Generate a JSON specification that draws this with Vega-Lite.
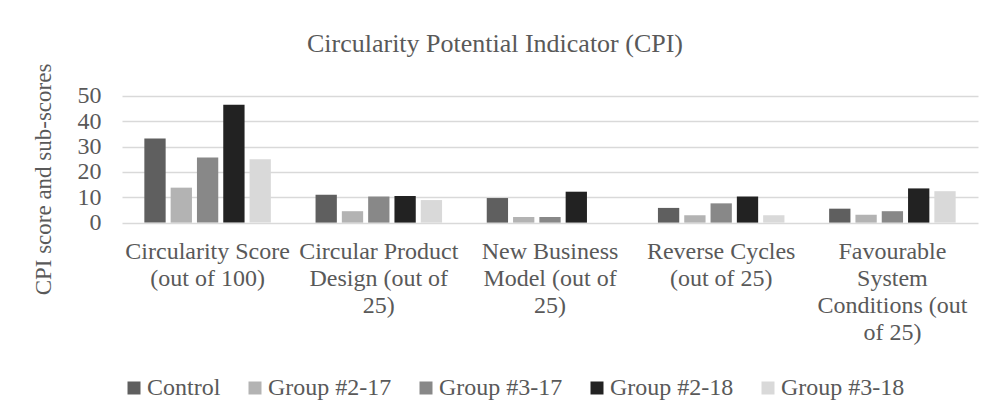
{
  "$schema": "https://vega.github.io/schema/vega-lite/v6.json",
  "width": 856,
  "height": 126.6,
  "padding": {"left": 32, "top": 31, "right": 20, "bottom": 5},
  "background": "white",
  "title": {
    "text": "Circularity Potential Indicator (CPI)",
    "font": "Liberation Serif",
    "fontSize": 26,
    "fontWeight": "normal",
    "color": "#595959",
    "anchor": "middle",
    "frame": "bounds",
    "dx": -10,
    "offset": 6
  },
  "data": {
    "values": [
      {"category": "Circularity Score (out of 100)", "series": "Control", "score": 33.2},
      {"category": "Circularity Score (out of 100)", "series": "Group #2-17", "score": 13.8},
      {"category": "Circularity Score (out of 100)", "series": "Group #3-17", "score": 25.7},
      {"category": "Circularity Score (out of 100)", "series": "Group #2-18", "score": 46.5},
      {"category": "Circularity Score (out of 100)", "series": "Group #3-18", "score": 25.0},
      {"category": "Circular Product Design (out of 25)", "series": "Control", "score": 11.0},
      {"category": "Circular Product Design (out of 25)", "series": "Group #2-17", "score": 4.5},
      {"category": "Circular Product Design (out of 25)", "series": "Group #3-17", "score": 10.3},
      {"category": "Circular Product Design (out of 25)", "series": "Group #2-18", "score": 10.5},
      {"category": "Circular Product Design (out of 25)", "series": "Group #3-18", "score": 8.9},
      {"category": "New Business Model (out of 25)", "series": "Control", "score": 9.7},
      {"category": "New Business Model (out of 25)", "series": "Group #2-17", "score": 2.2},
      {"category": "New Business Model (out of 25)", "series": "Group #3-17", "score": 2.2},
      {"category": "New Business Model (out of 25)", "series": "Group #2-18", "score": 12.2},
      {"category": "New Business Model (out of 25)", "series": "Group #3-18", "score": 0},
      {"category": "Reverse Cycles (out of 25)", "series": "Control", "score": 5.8},
      {"category": "Reverse Cycles (out of 25)", "series": "Group #2-17", "score": 2.9},
      {"category": "Reverse Cycles (out of 25)", "series": "Group #3-17", "score": 7.6},
      {"category": "Reverse Cycles (out of 25)", "series": "Group #2-18", "score": 10.3},
      {"category": "Reverse Cycles (out of 25)", "series": "Group #3-18", "score": 2.9},
      {"category": "Favourable System Conditions (out of 25)", "series": "Control", "score": 5.5},
      {"category": "Favourable System Conditions (out of 25)", "series": "Group #2-17", "score": 3.1},
      {"category": "Favourable System Conditions (out of 25)", "series": "Group #3-17", "score": 4.5},
      {"category": "Favourable System Conditions (out of 25)", "series": "Group #2-18", "score": 13.5},
      {"category": "Favourable System Conditions (out of 25)", "series": "Group #3-18", "score": 12.4}
    ]
  },
  "mark": {"type": "bar"},
  "encoding": {
    "x": {
      "field": "category",
      "type": "nominal",
      "sort": null,
      "scale": {"paddingInner": 0.261, "paddingOuter": 0.1305},
      "axis": {
        "title": null,
        "labelAngle": 0,
        "labelFont": "Liberation Serif",
        "labelFontSize": 24,
        "labelColor": "#595959",
        "labelBaseline": "alphabetic",
        "labelLineHeight": 27,
        "labelPadding": 36,
        "ticks": false,
        "tickSize": 0,
        "domain": false,
        "labelExpr": "datum.value == 'Circularity Score (out of 100)' ? ['Circularity Score', '(out of 100)'] : datum.value == 'Circular Product Design (out of 25)' ? ['Circular Product', 'Design (out of', '25)'] : datum.value == 'New Business Model (out of 25)' ? ['New Business', 'Model (out of', '25)'] : datum.value == 'Reverse Cycles (out of 25)' ? ['Reverse Cycles', '(out of 25)'] : ['Favourable', 'System', 'Conditions (out', 'of 25)']"
      }
    },
    "xOffset": {
      "field": "series",
      "type": "nominal",
      "sort": ["Control", "Group #2-17", "Group #3-17", "Group #2-18", "Group #3-18"],
      "scale": {"paddingInner": 0.19, "paddingOuter": 0}
    },
    "y": {
      "field": "score",
      "type": "quantitative",
      "scale": {"domain": [0, 50], "nice": false},
      "axis": {
        "title": "CPI score and sub-scores",
        "titleFont": "Liberation Serif",
        "titleFontSize": 23,
        "titleFontWeight": "normal",
        "titleColor": "#595959",
        "titlePadding": 22,
        "titleY": 83,
        "values": [0, 10, 20, 30, 40, 50],
        "labelFont": "Liberation Serif",
        "labelFontSize": 24,
        "labelColor": "#595959",
        "labelPadding": 21,
        "ticks": false,
        "tickSize": 0,
        "domain": false,
        "grid": true,
        "gridColor": "#d9d9d9",
        "gridWidth": 1.4
      }
    },
    "color": {
      "field": "series",
      "type": "nominal",
      "scale": {
        "domain": ["Control", "Group #2-17", "Group #3-17", "Group #2-18", "Group #3-18"],
        "range": ["#5f5f5f", "#b3b3b3", "#888888", "#222222", "#d9d9d9"]
      },
      "legend": {
        "title": null,
        "orient": "bottom",
        "direction": "horizontal",
        "symbolType": "square",
        "symbolSize": 169,
        "symbolStrokeWidth": 0,
        "labelFont": "Liberation Serif",
        "labelFontSize": 24,
        "labelColor": "#595959",
        "labelOffset": 1,
        "columnPadding": 22,
        "offset": 31,
        "padding": 0
      }
    }
  },
  "config": {
    "view": {"stroke": null},
    "font": "Liberation Serif",
    "legend": {"labelFont": "Liberation Serif", "labelFontSize": 24, "labelLimit": 300}
  }
}
